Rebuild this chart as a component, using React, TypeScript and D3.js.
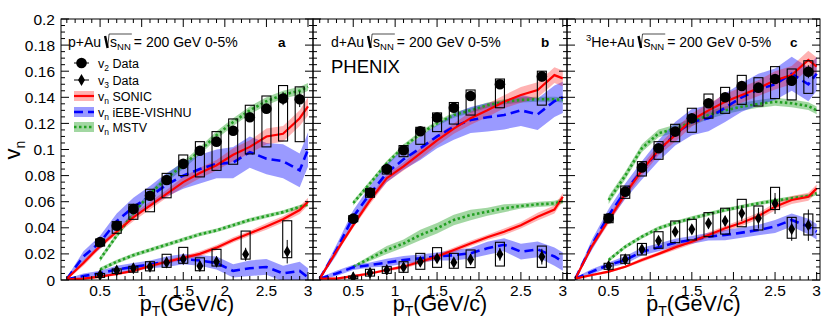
import React, { useEffect, useRef } from "react";
import * as d3 from "d3";

// pT grids
const modelPt = [0.1, 0.3, 0.5, 0.7, 0.9, 1.1, 1.3, 1.5, 1.7, 1.9, 2.1, 2.3, 2.5, 2.7, 2.9, 3.0];
const mstvPt = [0.5, 0.7, 0.9, 1.1, 1.3, 1.5, 1.7, 1.9, 2.1, 2.3, 2.5, 2.7, 2.9, 3.0];
const finePt = [0.5, 0.7, 0.9, 1.1, 1.3, 1.5, 1.7, 1.9, 2.1, 2.3, 2.5, 2.7, 2.9];
const coarsePt = [0.5, 0.7, 0.9, 1.1, 1.3, 1.5, 1.7, 1.9, 2.25, 2.75];

const xTickLabels = ["0.5", "1", "1.5", "2", "2.5", "3"];
const yTickLabels = ["0", "0.02", "0.04", "0.06", "0.08", "0.1", "0.12", "0.14", "0.16", "0.18", "0.2"];

// ---- p+Au data ----
const pAuV2 = [0.029, 0.0416, 0.0544, 0.0646, 0.0766, 0.089, 0.099, 0.106, 0.1144, 0.1247, 0.1313, 0.139, 0.1385];
const pAuV2Stat = [0.001, 0.001, 0.001, 0.001, 0.0015, 0.002, 0.002, 0.002, 0.003, 0.003, 0.003, 0.005, 0.006];
const pAuV2SysLo = [0.026, 0.0358, 0.0465, 0.0523, 0.063, 0.08, 0.079, 0.084, 0.0887, 0.0966, 0.102, 0.1065, 0.106];
const pAuV2SysHi = [0.0314, 0.0447, 0.058, 0.0695, 0.0817, 0.0958, 0.106, 0.1137, 0.1234, 0.1339, 0.141, 0.149, 0.148];
const pAuV3 = [0.0038, 0.0072, 0.009, 0.0102, 0.0135, 0.016, 0.0107, 0.014, 0.0197, 0.0217];
const pAuV3Stat = [0.001, 0.0015, 0.0015, 0.002, 0.002, 0.003, 0.004, 0.004, 0.005, 0.009];
const pAuV3SysLo = [0.002, 0.005, 0.006, 0.007, 0.0097, 0.0128, 0.0071, 0.0107, 0.016, 0.0171];
const pAuV3SysHi = [0.005, 0.0085, 0.0105, 0.014, 0.0197, 0.025, 0.017, 0.0235, 0.0375, 0.0454];

const pAuSonicV2 = [0.001, 0.013, 0.026, 0.037, 0.048, 0.057, 0.066, 0.075, 0.082, 0.088, 0.096, 0.102, 0.11, 0.112, 0.124, 0.133];
const pAuSonicV2Err = [0.001, 0.002, 0.002, 0.002, 0.003, 0.003, 0.003, 0.004, 0.004, 0.004, 0.005, 0.005, 0.006, 0.006, 0.006, 0.007];
const pAuVishV2 = [0.001, 0.018, 0.029, 0.045, 0.056, 0.064, 0.073, 0.08, 0.085, 0.089, 0.09, 0.098, 0.093, 0.091, 0.084, 0.1];
const pAuVishV2Err = [0.001, 0.004, 0.005, 0.006, 0.007, 0.008, 0.009, 0.01, 0.011, 0.011, 0.012, 0.012, 0.012, 0.013, 0.013, 0.013];
const pAuMstvV2 = [0.016, 0.034, 0.051, 0.066, 0.078, 0.088, 0.099, 0.111, 0.121, 0.13, 0.137, 0.142, 0.145, 0.148];
const pAuMstvV2Err = [0.002, 0.002, 0.002, 0.002, 0.003, 0.003, 0.003, 0.003, 0.003, 0.003, 0.003, 0.003, 0.003, 0.003];
const pAuSonicV3 = [0.0005, 0.001, 0.0026, 0.0046, 0.007, 0.0107, 0.014, 0.017, 0.02, 0.0248, 0.0307, 0.0358, 0.041, 0.0465, 0.0536, 0.06];
const pAuSonicV3Err = [0.0005, 0.001, 0.001, 0.001, 0.001, 0.0015, 0.0015, 0.0015, 0.002, 0.002, 0.002, 0.002, 0.0025, 0.0025, 0.003, 0.003];
const pAuVishV3 = [0.0005, 0.003, 0.005, 0.008, 0.01, 0.012, 0.014, 0.016, 0.015, 0.013, 0.007, 0.009, 0.01, 0.005, 0.007, 0.002];
const pAuVishV3Err = [0.0005, 0.002, 0.002, 0.003, 0.003, 0.003, 0.004, 0.004, 0.004, 0.005, 0.005, 0.006, 0.006, 0.006, 0.007, 0.007];
const pAuMstvV3 = [0.008, 0.014, 0.019, 0.023, 0.027, 0.031, 0.035, 0.038, 0.042, 0.046, 0.049, 0.052, 0.056, 0.058];
const pAuMstvV3Err = [0.0015, 0.0015, 0.0015, 0.0015, 0.0015, 0.0015, 0.0015, 0.0015, 0.0015, 0.0015, 0.0015, 0.0015, 0.0015, 0.0015];

// ---- d+Au data ----
const dAuV2 = [0.047, 0.067, 0.085, 0.0995, 0.114, 0.1245, 0.132, 0.141, 0.15, 0.156];
const dAuV2Stat = [0.001, 0.001, 0.001, 0.0015, 0.0015, 0.002, 0.002, 0.002, 0.003, 0.004];
const dAuV2SysLo = [0.0447, 0.0634, 0.0812, 0.0945, 0.104, 0.1137, 0.1195, 0.1264, 0.132, 0.134];
const dAuV2SysHi = [0.0493, 0.07, 0.0868, 0.103, 0.117, 0.128, 0.136, 0.1456, 0.154, 0.16];
const dAuV3 = [0.002, 0.0056, 0.0077, 0.0097, 0.014, 0.0166, 0.0135, 0.0158, 0.0197, 0.0179];
const dAuV3Stat = [0.001, 0.0015, 0.0015, 0.002, 0.002, 0.003, 0.003, 0.004, 0.005, 0.006];
const dAuV3SysLo = [0.001, 0.003, 0.0051, 0.0059, 0.0082, 0.0097, 0.009, 0.0095, 0.0107, 0.0097];
const dAuV3SysHi = [0.003, 0.0082, 0.0102, 0.014, 0.0204, 0.0248, 0.0204, 0.023, 0.0289, 0.026];

const dAuSonicV2 = [0.001, 0.022, 0.042, 0.061, 0.078, 0.087, 0.097, 0.107, 0.116, 0.124, 0.13, 0.1366, 0.1418, 0.1456, 0.157, 0.1545];
const dAuSonicV2Err = [0.001, 0.002, 0.002, 0.003, 0.003, 0.003, 0.004, 0.004, 0.004, 0.005, 0.005, 0.005, 0.006, 0.006, 0.006, 0.006];
const dAuVishV2 = [0.001, 0.023, 0.0485, 0.066, 0.082, 0.0925, 0.101, 0.11, 0.1175, 0.1226, 0.1247, 0.1264, 0.13, 0.127, 0.137, 0.14];
const dAuVishV2Err = [0.001, 0.004, 0.005, 0.006, 0.007, 0.008, 0.009, 0.009, 0.01, 0.01, 0.011, 0.011, 0.012, 0.012, 0.012, 0.012];
const dAuMstvV2 = [0.059, 0.074, 0.0894, 0.102, 0.112, 0.12, 0.1264, 0.13, 0.134, 0.1366, 0.138, 0.1385, 0.1385, 0.138];
const dAuMstvV2Err = [0.002, 0.002, 0.002, 0.002, 0.002, 0.002, 0.002, 0.002, 0.002, 0.002, 0.002, 0.002, 0.002, 0.002];
const dAuSonicV3 = [0.001, 0.001, 0.003, 0.005, 0.0077, 0.0102, 0.014, 0.0179, 0.023, 0.028, 0.0327, 0.037, 0.042, 0.0485, 0.054, 0.0638];
const dAuSonicV3Err = [0.0005, 0.001, 0.001, 0.001, 0.001, 0.0015, 0.0015, 0.002, 0.002, 0.002, 0.002, 0.0025, 0.0025, 0.003, 0.003, 0.003];
const dAuVishV3 = [0.001, 0.005, 0.0097, 0.0115, 0.0133, 0.0153, 0.0166, 0.018, 0.019, 0.0205, 0.0243, 0.027, 0.0217, 0.0235, 0.018, 0.014];
const dAuVishV3Err = [0.001, 0.002, 0.002, 0.002, 0.003, 0.003, 0.003, 0.003, 0.004, 0.004, 0.005, 0.005, 0.006, 0.006, 0.007, 0.007];
const dAuMstvV3 = [0.0102, 0.0166, 0.023, 0.028, 0.0345, 0.0396, 0.046, 0.0498, 0.0523, 0.055, 0.0567, 0.058, 0.0587, 0.0606];
const dAuMstvV3Err = [0.001, 0.002, 0.003, 0.003, 0.004, 0.004, 0.004, 0.004, 0.003, 0.003, 0.002, 0.002, 0.002, 0.002];

// ---- 3He+Au data ----
const heAuV2 = [0.0473, 0.0677, 0.0863, 0.101, 0.1137, 0.124, 0.1354, 0.14, 0.1487, 0.1474, 0.154, 0.1527, 0.1596];
const heAuV2Stat = [0.001, 0.001, 0.001, 0.001, 0.0015, 0.0015, 0.002, 0.002, 0.002, 0.003, 0.003, 0.004, 0.005];
const heAuV2SysLo = [0.0439, 0.0626, 0.0797, 0.0925, 0.106, 0.1132, 0.124, 0.1277, 0.1346, 0.1333, 0.139, 0.138, 0.143];
const heAuV2SysHi = [0.0503, 0.072, 0.0907, 0.106, 0.1193, 0.1316, 0.1425, 0.1476, 0.1568, 0.155, 0.1635, 0.1617, 0.168];
const heAuV3 = [0.0107, 0.0158, 0.0235, 0.0301, 0.037, 0.0388, 0.0434, 0.0452, 0.0511, 0.0473, 0.0587, 0.039, 0.042];
const heAuV3Stat = [0.002, 0.002, 0.003, 0.003, 0.003, 0.003, 0.004, 0.004, 0.006, 0.008, 0.008, 0.009, 0.012];
const heAuV3SysLo = [0.0082, 0.0128, 0.0192, 0.0243, 0.0286, 0.0307, 0.0332, 0.0352, 0.0408, 0.0383, 0.054, 0.032, 0.0345];
const heAuV3SysHi = [0.0128, 0.0192, 0.028, 0.037, 0.0452, 0.0465, 0.0516, 0.055, 0.0618, 0.0567, 0.071, 0.048, 0.0506];

const heAuSonicV2 = [0.001, 0.026, 0.046, 0.066, 0.084, 0.0996, 0.111, 0.1226, 0.13, 0.1366, 0.1418, 0.147, 0.153, 0.157, 0.1686, 0.1635];
const heAuSonicV2Err = [0.001, 0.002, 0.003, 0.003, 0.004, 0.004, 0.005, 0.005, 0.005, 0.006, 0.006, 0.006, 0.007, 0.007, 0.007, 0.007];
const heAuVishV2 = [0.001, 0.027, 0.0495, 0.068, 0.084, 0.099, 0.112, 0.121, 0.124, 0.132, 0.14, 0.146, 0.15, 0.158, 0.15, 0.158];
const heAuVishV2Err = [0.001, 0.004, 0.005, 0.006, 0.007, 0.008, 0.009, 0.01, 0.01, 0.011, 0.011, 0.012, 0.012, 0.013, 0.013, 0.013];
const heAuMstvV2 = [0.0613, 0.08, 0.101, 0.1124, 0.116, 0.121, 0.1264, 0.13, 0.1328, 0.1349, 0.1366, 0.1354, 0.1333, 0.13];
const heAuMstvV2Err = [0.003, 0.003, 0.003, 0.003, 0.003, 0.003, 0.003, 0.003, 0.003, 0.003, 0.003, 0.003, 0.003, 0.003];
const heAuSonicV3 = [0.001, 0.0038, 0.0064, 0.0102, 0.0153, 0.02, 0.025, 0.0293, 0.0345, 0.0396, 0.0439, 0.049, 0.0562, 0.0613, 0.0638, 0.0702];
const heAuSonicV3Err = [0.0005, 0.001, 0.001, 0.001, 0.0015, 0.0015, 0.002, 0.002, 0.002, 0.002, 0.0025, 0.0025, 0.003, 0.003, 0.003, 0.003];
const heAuVishV3 = [0.001, 0.0064, 0.0115, 0.0153, 0.0217, 0.025, 0.0286, 0.0307, 0.0332, 0.0345, 0.0363, 0.0383, 0.041, 0.046, 0.041, 0.037];
const heAuVishV3Err = [0.001, 0.002, 0.002, 0.003, 0.003, 0.003, 0.003, 0.003, 0.003, 0.004, 0.004, 0.004, 0.005, 0.005, 0.006, 0.006];
const heAuMstvV3 = [0.0153, 0.0255, 0.0332, 0.0396, 0.0439, 0.0473, 0.0506, 0.0536, 0.0562, 0.0587, 0.0608, 0.0626, 0.0644, 0.0664];
const heAuMstvV3Err = [0.0015, 0.0015, 0.0015, 0.0015, 0.0015, 0.0015, 0.0015, 0.0015, 0.0015, 0.0015, 0.0015, 0.0015, 0.0015, 0.0015];

const FONT = "'Liberation Sans', Arial, Helvetica, sans-serif";
const RED = "#ff0000";
const BLUE = "#0000ff";
const GREEN = "#22a022";

const TOP = 19;
const BOTTOM = 280;

const panels = [
  {
    x0: 61, x1: 313, dom: [0.03, 3.06], tag: "a", sup: "", sys: "p+Au", hx: 68, tagX: 278,
    v2: { pt: finePt, v: pAuV2, stat: pAuV2Stat, lo: pAuV2SysLo, hi: pAuV2SysHi },
    v3: { pt: coarsePt, v: pAuV3, stat: pAuV3Stat, lo: pAuV3SysLo, hi: pAuV3SysHi },
    sonic: [[pAuSonicV2, pAuSonicV2Err], [pAuSonicV3, pAuSonicV3Err]],
    vish: [[pAuVishV2, pAuVishV2Err], [pAuVishV3, pAuVishV3Err]],
    mstv: [[pAuMstvV2, pAuMstvV2Err], [pAuMstvV3, pAuMstvV3Err]],
  },
  {
    x0: 313, x1: 567, dom: [0.02, 3.05], tag: "b", sup: "", sys: "d+Au", hx: 331, tagX: 541,
    v2: { pt: coarsePt, v: dAuV2, stat: dAuV2Stat, lo: dAuV2SysLo, hi: dAuV2SysHi },
    v3: { pt: coarsePt, v: dAuV3, stat: dAuV3Stat, lo: dAuV3SysLo, hi: dAuV3SysHi },
    sonic: [[dAuSonicV2, dAuSonicV2Err], [dAuSonicV3, dAuSonicV3Err]],
    vish: [[dAuVishV2, dAuVishV2Err], [dAuVishV3, dAuVishV3Err]],
    mstv: [[dAuMstvV2, dAuMstvV2Err], [dAuMstvV3, dAuMstvV3Err]],
  },
  {
    x0: 567, x1: 820, dom: [0.0, 3.04], tag: "c", sup: "3", sys: "He+Au", hx: 586, tagX: 790,
    v2: { pt: finePt, v: heAuV2, stat: heAuV2Stat, lo: heAuV2SysLo, hi: heAuV2SysHi },
    v3: { pt: finePt, v: heAuV3, stat: heAuV3Stat, lo: heAuV3SysLo, hi: heAuV3SysHi },
    sonic: [[heAuSonicV2, heAuSonicV2Err], [heAuSonicV3, heAuSonicV3Err]],
    vish: [[heAuVishV2, heAuVishV2Err], [heAuVishV3, heAuVishV3Err]],
    mstv: [[heAuMstvV2, heAuMstvV2Err], [heAuMstvV3, heAuMstvV3Err]],
  },
];

function drawHeader(g: any, x0: number, yb: number, sup: string, sys: string) {
  const fs = 14;
  let cx = x0;
  if (sup) {
    const s = g.append("text").attr("x", cx).attr("y", yb - 6).attr("font-size", 9.5).text(sup);
    cx += s.node().getComputedTextLength();
  }
  const t1 = g.append("text").attr("x", cx).attr("y", yb).attr("font-size", fs).text(sys);
  cx += t1.node().getComputedTextLength() + 4;
  const r0 = cx;
  const tS = g.append("text").attr("x", r0 + 5).attr("y", yb).attr("font-size", fs).text("s");
  const sW = tS.node().getComputedTextLength();
  const tN = g.append("text").attr("x", r0 + 5 + sW).attr("y", yb + 3).attr("font-size", 9.5).text("NN");
  const nEnd = r0 + 5 + sW + tN.node().getComputedTextLength();
  g.append("path")
    .attr("d", `M${r0},${yb - 11} L${r0 + 2.5},${yb + 1}`)
    .attr("stroke", "black").attr("stroke-width", 2.4).attr("fill", "none");
  g.append("path")
    .attr("d", `M${r0 + 2.5},${yb + 1} L${r0 + 4},${yb - 13} L${nEnd + 1},${yb - 13}`)
    .attr("stroke", "black").attr("stroke-width", 0.7).attr("fill", "none");
  g.append("text").attr("x", nEnd + 3).attr("y", yb).attr("font-size", fs).text("= 200 GeV 0-5%");
}

export default function App() {
  const ref = useRef<SVGSVGElement>(null);

  useEffect(() => {
    const svg = d3.select(ref.current);
    svg.selectAll("*").remove();
    svg.attr("font-family", FONT);

    const y = d3.scaleLinear().domain([0, 0.2]).range([BOTTOM, TOP]);

    panels.forEach((p, i) => {
      const x = d3.scaleLinear().domain(p.dom).range([p.x0, p.x1]);
      const g = svg.append("g");
      const clipId = `clip${i}`;
      g.append("clipPath").attr("id", clipId)
        .append("rect").attr("x", p.x0).attr("y", TOP).attr("width", p.x1 - p.x0).attr("height", BOTTOM - TOP);
      const plot = g.append("g").attr("clip-path", `url(#${clipId})`);

      const area = d3.area<number[]>().x((d) => x(d[0])).y0((d) => y(d[1] - d[2])).y1((d) => y(d[1] + d[2]));
      const line = d3.line<number[]>().x((d) => x(d[0])).y((d) => y(d[1]));
      const rows = (pts: number[], mid: number[], err: number[]) => pts.map((t, k) => [t, mid[k], err[k]]);

      const models = [
        { pts: mstvPt, curves: p.mstv, fill: GREEN, op: 0.42, stroke: GREEN, dash: "2.5,2.5", w: 2.6 },
        { pts: modelPt, curves: p.vish, fill: "#2020ff", op: 0.45, stroke: BLUE, dash: "9,5", w: 2.6 },
        { pts: modelPt, curves: p.sonic, fill: RED, op: 0.3, stroke: RED, dash: null, w: 2.2 },
      ];
      // bands
      models.forEach((m) => {
        m.curves.forEach(([mid, err]) => {
          plot.append("path").datum(rows(m.pts, mid, err)).attr("d", area as any)
            .attr("fill", m.fill).attr("fill-opacity", m.op).attr("stroke", "none");
        });
      });
      // central lines
      models.forEach((m) => {
        m.curves.forEach(([mid, err]) => {
          plot.append("path").datum(rows(m.pts, mid, err)).attr("d", line as any)
            .attr("fill", "none").attr("stroke", m.stroke).attr("stroke-width", m.w)
            .attr("stroke-dasharray", m.dash);
        });
      });

      // data
      const drawData = (s: any, marker: string) => {
        s.pt.forEach((t: number, k: number) => {
          const cx = x(t);
          plot.append("rect").attr("x", cx - 4.5).attr("y", y(s.hi[k])).attr("width", 9)
            .attr("height", y(s.lo[k]) - y(s.hi[k])).attr("fill", "none").attr("stroke", "black").attr("stroke-width", 1.1);
          plot.append("line").attr("x1", cx).attr("x2", cx)
            .attr("y1", y(s.v[k] - s.stat[k])).attr("y2", y(s.v[k] + s.stat[k]))
            .attr("stroke", "black").attr("stroke-width", 1);
          if (marker === "circle") {
            plot.append("circle").attr("cx", cx).attr("cy", y(s.v[k])).attr("r", 5.3).attr("fill", "black");
          } else {
            plot.append("path").attr("d", d3.symbol().type(d3.symbolDiamond).size(42)() as string)
              .attr("transform", `translate(${cx},${y(s.v[k])})`).attr("fill", "black");
          }
        });
      };
      drawData(p.v2, "circle");
      drawData(p.v3, "diamond");

      // frame
      g.append("rect").attr("x", p.x0).attr("y", TOP).attr("width", p.x1 - p.x0).attr("height", BOTTOM - TOP)
        .attr("fill", "none").attr("stroke", "black").attr("stroke-width", 1);

      // x ticks
      d3.range(0, 31).forEach((k) => {
        const v = k / 10;
        if (v < p.dom[0] || v > p.dom[1]) return;
        const len = k % 5 === 0 ? 8 : 4;
        const px = x(v);
        g.append("line").attr("x1", px).attr("x2", px).attr("y1", BOTTOM).attr("y2", BOTTOM - len).attr("stroke", "black");
        g.append("line").attr("x1", px).attr("x2", px).attr("y1", TOP).attr("y2", TOP + len).attr("stroke", "black");
      });
      xTickLabels.forEach((lab) => {
        g.append("text").attr("x", x(+lab)).attr("y", 296).attr("text-anchor", "middle")
          .attr("font-size", 15.5).text(lab);
      });
      // y ticks
      d3.range(0, 41).forEach((k) => {
        const v = k * 0.005;
        const len = k % 4 === 0 ? 8 : 4;
        const py = y(v);
        g.append("line").attr("x1", p.x0).attr("x2", p.x0 + len).attr("y1", py).attr("y2", py).attr("stroke", "black");
        g.append("line").attr("x1", p.x1).attr("x2", p.x1 - len).attr("y1", py).attr("y2", py).attr("stroke", "black");
      });

      // x title
      const xt = g.append("text").attr("x", (p.x0 + p.x1) / 2).attr("y", 311).attr("text-anchor", "middle").attr("font-size", 21.5);
      xt.append("tspan").text("p");
      xt.append("tspan").attr("font-size", 14).attr("dy", 5).text("T");
      xt.append("tspan").attr("dy", -5).text("(GeV/c)");

      // header
      drawHeader(g, p.hx, 47, p.sup, p.sys);
      g.append("text").attr("x", p.tagX).attr("y", 47).attr("font-size", 13.5).attr("font-weight", "bold").text(p.tag);

      if (i === 1) {
        g.append("text").attr("x", 331).attr("y", 73).attr("font-size", 18.5).text("PHENIX");
      }

      if (i === 0) {
        // legend
        const lx0 = 74, lx1 = 94, tx = 98;
        const ly = [63, 80, 96, 112, 127];
        const lt = (yy: number, sub: string, rest: string) => {
          const t = g.append("text").attr("x", tx).attr("y", yy + 4.5).attr("font-size", 12.5);
          t.append("tspan").text("v");
          t.append("tspan").attr("font-size", 8.5).attr("dy", 3).text(sub);
          t.append("tspan").attr("dy", -3).text(" " + rest);
        };
        g.append("line").attr("x1", lx0).attr("x2", 89).attr("y1", ly[0]).attr("y2", ly[0]).attr("stroke", "black");
        g.append("circle").attr("cx", 81.5).attr("cy", ly[0]).attr("r", 5.3).attr("fill", "black");
        lt(ly[0], "2", "Data");
        g.append("line").attr("x1", lx0).attr("x2", 89).attr("y1", ly[1]).attr("y2", ly[1]).attr("stroke", "black");
        g.append("path").attr("d", d3.symbol().type(d3.symbolDiamond).size(42)() as string)
          .attr("transform", `translate(81.5,${ly[1]})`).attr("fill", "black");
        lt(ly[1], "3", "Data");
        const legModels = [
          { fill: RED, op: 0.3, stroke: RED, dash: null, w: 2.2, name: "SONIC" },
          { fill: "#2020ff", op: 0.45, stroke: BLUE, dash: "9,5", w: 2.6, name: "iEBE-VISHNU" },
          { fill: GREEN, op: 0.42, stroke: GREEN, dash: "2.5,2.5", w: 2.6, name: "MSTV" },
        ];
        legModels.forEach((m, k) => {
          const yy = ly[2 + k];
          g.append("rect").attr("x", lx0).attr("y", yy - 5).attr("width", lx1 - lx0).attr("height", 10)
            .attr("fill", m.fill).attr("fill-opacity", m.op);
          g.append("line").attr("x1", lx0).attr("x2", lx1).attr("y1", yy).attr("y2", yy)
            .attr("stroke", m.stroke).attr("stroke-width", m.w).attr("stroke-dasharray", m.dash);
          lt(yy, "n", m.name);
        });

        // y tick labels
        yTickLabels.forEach((lab) => {
          g.append("text").attr("x", 55).attr("y", y(+lab) + 5.5).attr("text-anchor", "end")
            .attr("font-size", 15.5).text(lab);
        });
        // y title
        const yt = g.append("text").attr("transform", "translate(20,150) rotate(-90)")
          .attr("text-anchor", "middle").attr("font-size", 22);
        yt.append("tspan").text("v");
        yt.append("tspan").attr("font-size", 14).attr("dy", 5).text("n");
      }
    });
  }, []);

  return (
    <svg
      ref={ref}
      width={830}
      height={328}
      style={{ position: "absolute", left: 0, top: 0, background: "white" }}
    />
  );
}
